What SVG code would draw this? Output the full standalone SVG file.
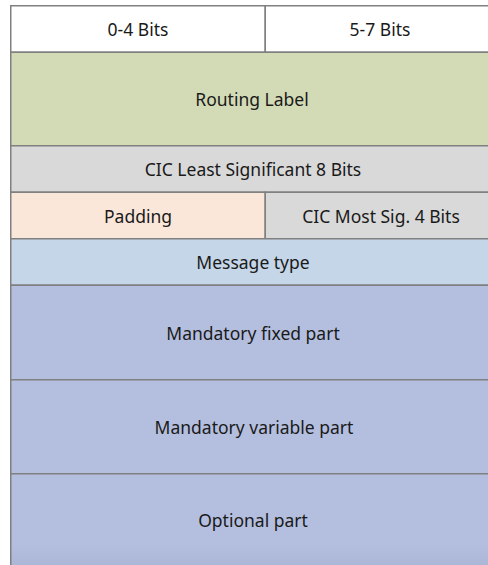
<svg xmlns="http://www.w3.org/2000/svg" width="488" height="565" viewBox="0 0 488 565">
<style>
.c{stroke:#808080;stroke-width:1.5}
.t{font-family:"Noto Sans","Liberation Sans",sans-serif;font-size:17.5px;fill:#1a1a1a;text-anchor:middle;dominant-baseline:central}
</style>
<defs>
<linearGradient id="g" x1="0" y1="0" x2="0" y2="1">
<stop offset="0.7" stop-color="#b4bfdf"/>
<stop offset="1" stop-color="#a9b3d3"/>
</linearGradient>
</defs>
<rect width="488" height="565" fill="#ffffff"/>
<g id="bits04"><rect class="c" x="10.75" y="5.75" width="254.5" height="46.5" fill="#ffffff"/><text class="t" x="138" y="29">0-4 Bits</text></g>
<g id="bits57"><rect class="c" x="265.25" y="5.75" width="240" height="46.5" fill="#ffffff"/><text class="t" x="380" y="29">5-7 Bits</text></g>
<g id="routing"><rect class="c" x="10.75" y="52.25" width="494.5" height="93.5" fill="#d3dab6"/><text class="t" x="252" y="99">Routing Label</text></g>
<g id="cicLsb"><rect class="c" x="10.75" y="145.75" width="494.5" height="46.5" fill="#d9d9d9"/><text class="t" x="253" y="169">CIC Least Significant 8 Bits</text></g>
<g id="padding"><rect class="c" x="10.75" y="192.25" width="254.5" height="46.5" fill="#fbe6da"/><text class="t" x="138" y="215.5">Padding</text></g>
<g id="cicMsb"><rect class="c" x="265.25" y="192.25" width="240" height="46.5" fill="#d9d9d9"/><text class="t" x="381" y="215.5">CIC Most Sig. 4 Bits</text></g>
<g id="msgType"><rect class="c" x="10.75" y="238.75" width="494.5" height="46.5" fill="#c4d6e8"/><text class="t" x="253" y="262">Message type</text></g>
<g id="fixed"><rect class="c" x="10.75" y="285.25" width="494.5" height="94.5" fill="#b4bfdf"/><text class="t" x="253" y="332.5">Mandatory fixed part</text></g>
<g id="variable"><rect class="c" x="10.75" y="379.75" width="494.5" height="94" fill="#b4bfdf"/><text class="t" x="254" y="426.5">Mandatory variable part</text></g>
<g id="optional"><rect class="c" x="10.75" y="473.75" width="494.5" height="100" fill="url(#g)"/><text class="t" x="253" y="519.5">Optional part</text></g>
<g id="connectors"></g>
</svg>
